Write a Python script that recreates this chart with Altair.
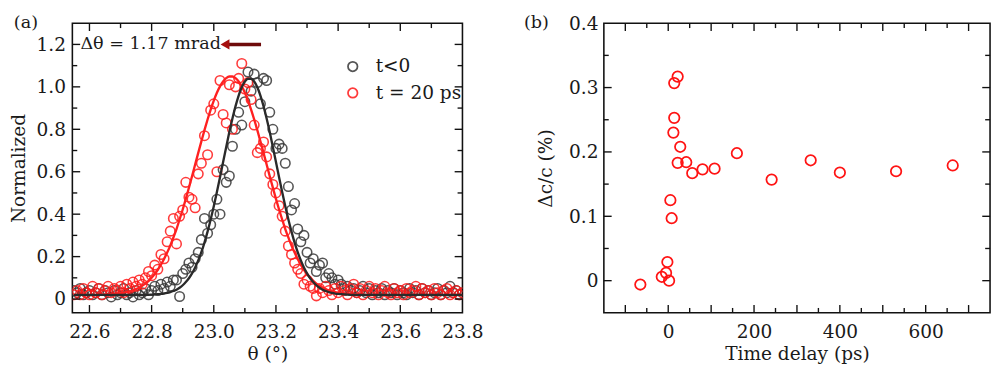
import altair as alt
import pandas as pd

# ---------------- panel (a) data ----------------
theta = [
    22.55, 22.56, 22.57, 22.58, 22.59, 22.60, 22.61, 22.62, 22.63, 22.64,
    22.65, 22.66, 22.67, 22.68, 22.69, 22.70, 22.71, 22.72, 22.73, 22.74,
    22.75, 22.76, 22.77, 22.78, 22.79, 22.80, 22.81, 22.82, 22.83, 22.84,
    22.85, 22.86, 22.87, 22.88, 22.89, 22.90, 22.91, 22.92, 22.93, 22.94,
    22.95, 22.96, 22.97, 22.98, 22.99, 23.00, 23.01, 23.02, 23.03, 23.04,
    23.05, 23.06, 23.07, 23.08, 23.09, 23.10, 23.11, 23.12, 23.13, 23.14,
    23.15, 23.16, 23.17, 23.18, 23.19, 23.20, 23.21, 23.22, 23.23, 23.24,
    23.25, 23.26, 23.27, 23.28, 23.29, 23.30, 23.31, 23.32, 23.33, 23.34,
    23.35, 23.36, 23.37, 23.38, 23.39, 23.40, 23.41, 23.42, 23.43, 23.44,
    23.45, 23.46, 23.47, 23.48, 23.49, 23.50, 23.51, 23.52, 23.53, 23.54,
    23.55, 23.56, 23.57, 23.58, 23.59, 23.60, 23.61, 23.62, 23.63, 23.64,
    23.65, 23.66, 23.67, 23.68, 23.69, 23.70, 23.71, 23.72, 23.73, 23.74,
    23.75, 23.76, 23.77, 23.78, 23.79, 23.80,
]
gray_counts = [
    0.04, 0.03, 0.05, 0.02, 0.03, 0.04, 0.02, 0.03, 0.05, 0.02,
    0.04, 0.03, 0.01, 0.04, 0.02, 0.03, 0.05, 0.02, 0.03, 0.01,
    0.04, 0.02, 0.03, 0.05, 0.02, 0.04, 0.06, 0.04, 0.07, 0.05,
    0.08, 0.06, 0.09, 0.09, 0.012, 0.12, 0.14, 0.17, 0.15, 0.19,
    0.22, 0.28, 0.38, 0.31, 0.35, 0.40, 0.47, 0.40, 0.61, 0.55,
    0.58, 0.72, 0.80, 0.88, 0.82, 0.93, 1.07, 0.98, 1.06, 1.02,
    0.92, 1.04, 1.03, 0.88, 0.80, 0.71, 0.73, 0.71, 0.64, 0.53,
    0.42, 0.45, 0.33, 0.27, 0.30, 0.22, 0.17, 0.19, 0.13, 0.16,
    0.17, 0.10, 0.12, 0.10, 0.07, 0.09, 0.07, 0.05, 0.06, 0.04,
    0.05, 0.03, 0.04, 0.06, 0.03, 0.05, 0.02, 0.04, 0.03, 0.05,
    0.02, 0.04, 0.03, 0.05, 0.02, 0.04, 0.03, 0.02, 0.05, 0.03,
    0.04, 0.02, 0.05, 0.03, 0.04, 0.02, 0.03, 0.05, 0.02, 0.04,
    0.03, 0.06, 0.03, 0.04, 0.02, 0.03,
]
red_counts = [
    0.02, 0.04, 0.02, 0.05, 0.03, 0.02, 0.06, 0.03, 0.05, 0.02,
    0.04, 0.06, 0.03, 0.05, 0.04, 0.06, 0.03, 0.07, 0.05, 0.08,
    0.06, 0.09, 0.07, 0.10, 0.13, 0.11, 0.16, 0.14, 0.21, 0.19,
    0.27, 0.32, 0.38, 0.26, 0.39, 0.42, 0.55, 0.48, 0.47, 0.43,
    0.59, 0.64, 0.77, 0.68, 0.89, 0.92, 0.60, 1.03, 0.87, 0.83,
    1.01, 0.80, 1.00, 1.04, 1.11, 0.99, 1.02, 0.94, 0.82, 0.69,
    0.71, 0.74, 0.67, 0.59, 0.54, 0.50, 0.44, 0.39, 0.32, 0.25,
    0.21, 0.17, 0.14, 0.12, 0.07, 0.09, 0.06, 0.05, 0.015, 0.05,
    0.03, 0.06, 0.04, 0.02, 0.05, 0.03, 0.06, 0.04, 0.02, 0.05,
    0.07, 0.03, 0.05, 0.02, 0.04, 0.06, 0.03, 0.05, 0.02, 0.04,
    0.06, 0.03, 0.02, 0.05, 0.03, 0.04, 0.02, 0.05, 0.03, 0.04,
    0.06, 0.02, 0.05, 0.03, 0.04, 0.02, 0.05, 0.03, 0.02, 0.04,
    0.05, 0.02, 0.03, 0.04, 0.02, 0.03,
]
gray_fit = [
    0.020, 0.020, 0.020, 0.020, 0.020, 0.020, 0.020, 0.020, 0.020, 0.020,
    0.020, 0.020, 0.020, 0.020, 0.020, 0.020, 0.020, 0.020, 0.020, 0.020,
    0.020, 0.020, 0.020, 0.020, 0.020, 0.021, 0.022, 0.023, 0.024, 0.026,
    0.029, 0.033, 0.038, 0.044, 0.053, 0.065, 0.080, 0.098, 0.121, 0.149,
    0.182, 0.221, 0.266, 0.318, 0.375, 0.437, 0.504, 0.574, 0.646, 0.717,
    0.787, 0.851, 0.909, 0.959, 0.998, 1.025, 1.038, 1.038, 1.025, 0.998,
    0.959, 0.909, 0.851, 0.787, 0.717, 0.646, 0.574, 0.504, 0.437, 0.375,
    0.318, 0.266, 0.221, 0.182, 0.149, 0.121, 0.098, 0.080, 0.065, 0.053,
    0.044, 0.038, 0.033, 0.029, 0.026, 0.024, 0.023, 0.022, 0.021, 0.020,
    0.020, 0.020, 0.020, 0.020, 0.020, 0.020, 0.020, 0.020, 0.020, 0.020,
    0.020, 0.020, 0.020, 0.020, 0.020, 0.020, 0.020, 0.020, 0.020, 0.020,
    0.020, 0.020, 0.020, 0.020, 0.020, 0.020, 0.020, 0.020, 0.020, 0.020,
    0.020, 0.020, 0.020, 0.020, 0.020, 0.020,
]
red_fit = [
    0.020, 0.020, 0.020, 0.020, 0.020, 0.020, 0.020, 0.020, 0.021, 0.021,
    0.022, 0.022, 0.023, 0.024, 0.026, 0.027, 0.030, 0.033, 0.036, 0.041,
    0.047, 0.054, 0.063, 0.073, 0.086, 0.101, 0.118, 0.138, 0.162, 0.189,
    0.219, 0.252, 0.290, 0.330, 0.375, 0.422, 0.472, 0.525, 0.579, 0.634,
    0.689, 0.743, 0.796, 0.846, 0.893, 0.935, 0.972, 1.002, 1.025, 1.041,
    1.049, 1.049, 1.041, 1.025, 1.002, 0.972, 0.935, 0.893, 0.846, 0.796,
    0.743, 0.689, 0.634, 0.579, 0.525, 0.472, 0.422, 0.375, 0.330, 0.290,
    0.252, 0.219, 0.189, 0.162, 0.138, 0.118, 0.101, 0.086, 0.073, 0.063,
    0.054, 0.047, 0.041, 0.036, 0.033, 0.030, 0.027, 0.026, 0.024, 0.023,
    0.022, 0.022, 0.021, 0.021, 0.020, 0.020, 0.020, 0.020, 0.020, 0.020,
    0.020, 0.020, 0.020, 0.020, 0.020, 0.020, 0.020, 0.020, 0.020, 0.020,
    0.020, 0.020, 0.020, 0.020, 0.020, 0.020, 0.020, 0.020, 0.020, 0.020,
    0.020, 0.020, 0.020, 0.020, 0.020, 0.020,
]
series_names = ["t<0", "t = 20 ps"]

ann_text = ["\u0394\u03b8 = 1.17 mrad"]
ann_x = [22.571]
ann_y = [1.2]
arrow_x_tail = [23.152]
arrow_x_head = [23.045]
arrowhead_x = [23.036]

a_x_labels = [22.6, 22.8, 23.0, 23.2, 23.4, 23.6, 23.8]
a_x_major = [22.6, 22.8, 23.0, 23.2, 23.4, 23.6]
a_x_minor = [22.7, 22.9, 23.1, 23.3, 23.5, 23.7]
a_y_major = [0, 0.2, 0.4, 0.6, 0.8, 1.0, 1.2]
a_y_minor = [0.1, 0.3, 0.5, 0.7, 0.9, 1.1]

# ---------------- panel (b) data ----------------
delay_ps = [-65, -15, -5, -2, 2, 5, 8, 12, 14, 14, 22, 28, 22, 42, 56, 80,
            108, 160, 241, 332, 400, 531, 663]
dc_over_c = [-0.006, 0.006, 0.012, 0.029, 0.0, 0.125, 0.097, 0.230, 0.253,
             0.307, 0.317, 0.208, 0.183, 0.184, 0.167, 0.173, 0.174, 0.198,
             0.157, 0.187, 0.168, 0.170, 0.179]
b_x_labels = [0, 200, 400, 600]
b_y_labels = [0, 0.1, 0.2, 0.3, 0.4]
b_x_major = [-100, 0, 100, 200, 300, 400, 500, 600, 700]
b_x_minor = [-50, 50, 150, 250, 350, 450, 550, 650]
b_y_major = [0, 0.1, 0.2, 0.3]
b_y_minor = [0.05, 0.15, 0.25, 0.35]

FONT = "DejaVu Serif"
TXT = "#1a1a1a"
FS = 19
W1, W2, H = 400, 396, 297
MAJ, MIN = 8, 5

pts = pd.DataFrame({
    "theta": theta + theta,
    "value": gray_counts + red_counts,
    "series": [series_names[0]] * len(theta) + [series_names[1]] * len(theta),
})
fits = pd.DataFrame({"theta": theta, "gray_fit": gray_fit, "red_fit": red_fit})

xs1 = alt.Scale(domain=[22.545, 23.8], nice=False, zero=False)
ys1 = alt.Scale(domain=[-0.065, 1.30], nice=False, zero=False)
xs2 = alt.Scale(domain=[-150, 750], nice=False, zero=False)
ys2 = alt.Scale(domain=[-0.05, 0.4], nice=False, zero=False)


def tick_layers(xvals_maj, xvals_min, yvals_maj, yvals_min, xs, ys, w, h):
    layers = []
    for vals, ln in ((xvals_maj, MAJ), (xvals_min, MIN)):
        d = pd.DataFrame({"v": vals})
        base = alt.Chart(d).mark_rule(color="#111", strokeWidth=1.4)
        layers.append(base.encode(x=alt.X("v:Q", scale=xs),
                                  y=alt.value(h), y2=alt.value(h - ln)))
        layers.append(base.encode(x=alt.X("v:Q", scale=xs),
                                  y=alt.value(0), y2=alt.value(ln)))
    for vals, ln in ((yvals_maj, MAJ), (yvals_min, MIN)):
        d = pd.DataFrame({"v": vals})
        base = alt.Chart(d).mark_rule(color="#111", strokeWidth=1.4)
        layers.append(base.encode(y=alt.Y("v:Q", scale=ys),
                                  x=alt.value(0), x2=alt.value(ln)))
        layers.append(base.encode(y=alt.Y("v:Q", scale=ys),
                                  x=alt.value(w), x2=alt.value(w - ln)))
    return layers


zero_expr = "datum.value == 0 ? '0' : format(datum.value, '.1f')"

# ---------------- panel (a) ----------------
points_a = alt.Chart(pts).mark_point(
    filled=False, size=95, strokeWidth=1.6, opacity=0.85, clip=True
).encode(
    x=alt.X("theta:Q", scale=xs1,
            axis=alt.Axis(title="\u03b8 (\u00b0)", values=a_x_labels,
                          format=".1f", labelPadding=10, titlePadding=4)),
    y=alt.Y("value:Q", scale=ys1,
            axis=alt.Axis(title="Normalized", values=a_y_major, labelExpr=zero_expr,
                          labelPadding=7, titlePadding=8)),
    stroke=alt.Stroke("series:N", scale=alt.Scale(domain=series_names, range=["#383838", "#ff1a1a"]),
                      legend=alt.Legend(title=None, orient="none", legendX=278, legendY=35,
                                        symbolType="circle", symbolSize=95, symbolStrokeWidth=1.8,
                                        symbolFillColor="transparent", labelFont=FONT,
                                        labelFontSize=FS, labelColor=TXT, rowPadding=7,
                                        labelOffset=14, padding=0)),
)

red_line = alt.Chart(fits).mark_line(color="#ff2020", strokeWidth=2.4, clip=True,
                                     interpolate="monotone").encode(
    x=alt.X("theta:Q", scale=xs1), y=alt.Y("red_fit:Q", scale=ys1))
gray_line = alt.Chart(fits).mark_line(color="#2a2a2a", strokeWidth=2.4, clip=True,
                                      interpolate="monotone").encode(
    x=alt.X("theta:Q", scale=xs1), y=alt.Y("gray_fit:Q", scale=ys1))

ann_df = pd.DataFrame({"x": ann_x, "y": ann_y, "t": ann_text})
ann = alt.Chart(ann_df).mark_text(font=FONT, fontSize=18, color=TXT, align="left",
                                  baseline="middle").encode(
    x=alt.X("x:Q", scale=xs1), y=alt.Y("y:Q", scale=ys1), text="t:N")
arrow_df = pd.DataFrame({"x": arrow_x_head, "x2": arrow_x_tail, "y": ann_y})
arrow = alt.Chart(arrow_df).mark_rule(color="#6e0b0b", strokeWidth=3.5).encode(
    x=alt.X("x:Q", scale=xs1), x2="x2:Q", y=alt.Y("y:Q", scale=ys1))
head_df = pd.DataFrame({"x": arrowhead_x, "y": ann_y})
head = alt.Chart(head_df).mark_point(shape="triangle-left", filled=True, size=110,
                                     color="#a50f0f", opacity=1).encode(
    x=alt.X("x:Q", scale=xs1), y=alt.Y("y:Q", scale=ys1))

label_a = alt.Chart(pd.DataFrame({"t": ["(a)"]})).mark_text(
    font=FONT, fontSize=18, color=TXT, align="left", baseline="top").encode(
    x=alt.value(-60), y=alt.value(-9), text="t:N")

panel_a = alt.layer(
    points_a, red_line, gray_line, ann, arrow, head,
    *tick_layers(a_x_major, a_x_minor, a_y_major, a_y_minor, xs1, ys1, W1, H),
    label_a,
).properties(width=W1, height=H)

# ---------------- panel (b) ----------------
dfb = pd.DataFrame({"delay": delay_ps, "dc": dc_over_c})
points_b = alt.Chart(dfb).mark_point(
    filled=False, size=115, strokeWidth=1.8, color="#ff1414", opacity=1, clip=True
).encode(
    x=alt.X("delay:Q", scale=xs2,
            axis=alt.Axis(title="Time delay (ps)", values=b_x_labels, format="d",
                          labelPadding=10, titlePadding=4)),
    y=alt.Y("dc:Q", scale=ys2,
            axis=alt.Axis(title="\u0394c/c (%)", values=b_y_labels,
                          labelExpr=zero_expr, labelPadding=6, titlePadding=13)),
)
label_b = alt.Chart(pd.DataFrame({"t": ["(b)"]})).mark_text(
    font=FONT, fontSize=18, color=TXT, align="left", baseline="top").encode(
    x=alt.value(-82), y=alt.value(-9), text="t:N")

panel_b = alt.layer(
    points_b,
    *tick_layers(b_x_major, b_x_minor, b_y_major, b_y_minor, xs2, ys2, W2, H),
    label_b,
).properties(width=W2, height=H)

chart = alt.hconcat(panel_a, panel_b, spacing=40).properties(
    padding={"top": 1, "left": 0, "right": 0, "bottom": 0}, background="white"
).configure_view(
    stroke="#111", strokeWidth=1.6
).configure_axis(
    labelFont=FONT, titleFont=FONT, labelFontSize=FS, titleFontSize=FS,
    labelColor=TXT, titleColor=TXT, titleFontWeight="normal",
    ticks=False, domain=False, grid=False,
    labelFlush=False, labelOverlap=False,
)

chart.save("out.html", embed_options={"renderer": "svg", "actions": False})
